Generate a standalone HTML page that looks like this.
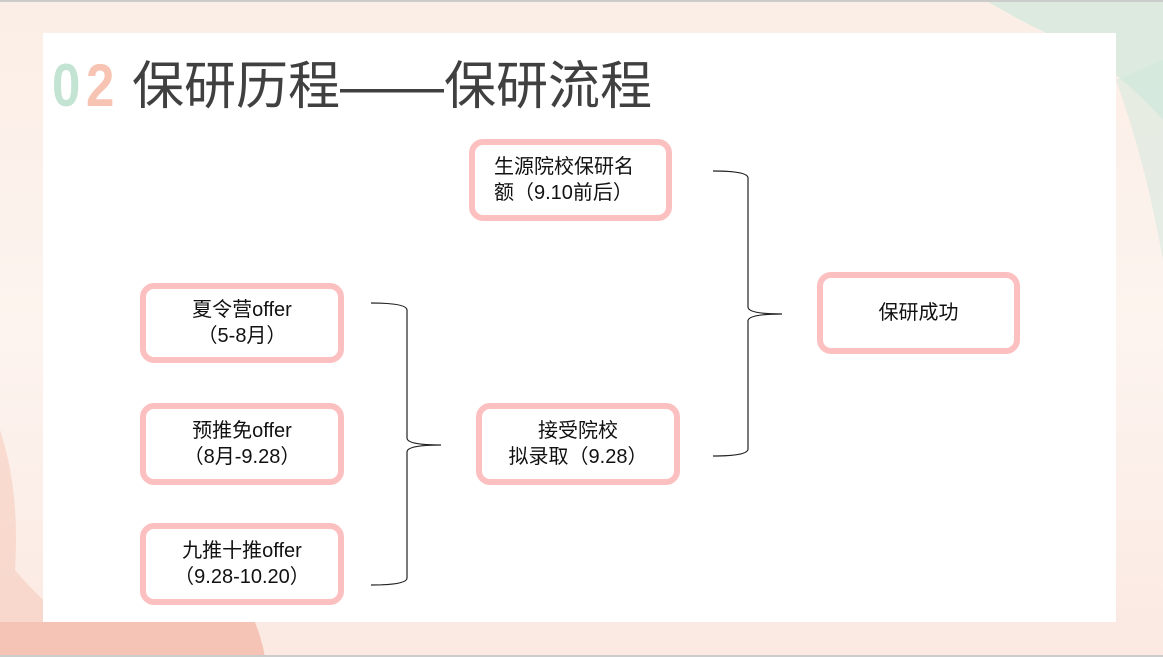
<!DOCTYPE html>
<html><head><meta charset="utf-8"><style>
body{margin:0;width:1163px;height:657px;overflow:hidden;font-family:"Liberation Sans","Noto Sans CJK SC",sans-serif;}
.bg{position:absolute;left:0;top:0;width:1163px;height:657px;background:linear-gradient(180deg,#fbeee6 0%,#fdf4ef 50%,#fbe9e2 100%);}
.panel{position:absolute;left:43px;top:33px;width:1073px;height:589px;background:#fff;}
.box{position:absolute;box-sizing:border-box;border:6px solid #fdc0c0;border-radius:14px;background:#fff;display:flex;align-items:center;justify-content:center;text-align:center;font-size:20px;line-height:26px;color:#111;}
.title{position:absolute;left:132px;top:52px;font-size:52px;line-height:70px;color:#404040;white-space:nowrap;}
.num{position:absolute;top:56px;font-size:60px;line-height:60px;font-weight:bold;transform:scaleX(0.85);transform-origin:left;}
</style></head><body>
<div class="bg"></div>
<svg style="position:absolute;left:0;top:0" width="1163" height="657">
<path d="M985 0 L1163 0 L1163 120 Q1110 60 1040 30 Q1010 15 985 0Z" fill="#cfe8dc" opacity="0.7"/>
<path d="M1116 80 Q1145 160 1163 260 L1163 60Z" fill="#cfe8dc" opacity="0.5"/>
<path d="M0 430 Q20 490 15 570 Q40 600 70 622 L0 622Z" fill="#f6c6b6" opacity="0.5"/>
<path d="M0 622 L255 622 Q262 640 265 657 L0 657Z" fill="#f4b3a3" opacity="0.7"/>
<rect x="0" y="0" width="1163" height="2" fill="#ccc"/>
<rect x="0" y="655" width="1163" height="2" fill="#ccc"/>
</svg>
<div class="panel"></div>
<div class="num" style="left:52px;color:#c3e3d3">0</div>
<div class="num" style="left:86px;color:#f7c3b3">2</div>
<div class="title">保研历程——保研流程</div>
<div class="box" style="left:469px;top:139px;width:203px;height:82px;text-align:left;justify-content:flex-start;padding-left:19px">生源院校保研名<br>额（9.10前后）</div>
<div class="box" style="left:140px;top:283px;width:204px;height:80px">夏令营offer<br>（5-8月）</div>
<div class="box" style="left:140px;top:403px;width:204px;height:82px">预推免offer<br>（8月-9.28）</div>
<div class="box" style="left:140px;top:523px;width:204px;height:82px">九推十推offer<br>（9.28-10.20）</div>
<div class="box" style="left:476px;top:403px;width:204px;height:82px">接受院校<br>拟录取（9.28）</div>
<div class="box" style="left:817px;top:272px;width:203px;height:82px">保研成功</div>
<svg style="position:absolute;left:0;top:0" width="1163" height="657" fill="none" stroke="#222" stroke-width="1.2">
<path d="M371 303 Q407 303 407 310 L407 438 Q407 445 441 445 Q407 445 407 452 L407 578 Q407 585 371 585"/>
<path d="M713 171 Q748 171 748 178 L748 307 Q748 314 782 314 Q748 314 748 321 L748 449 Q748 456 713 456"/>
</svg>
</body></html>
